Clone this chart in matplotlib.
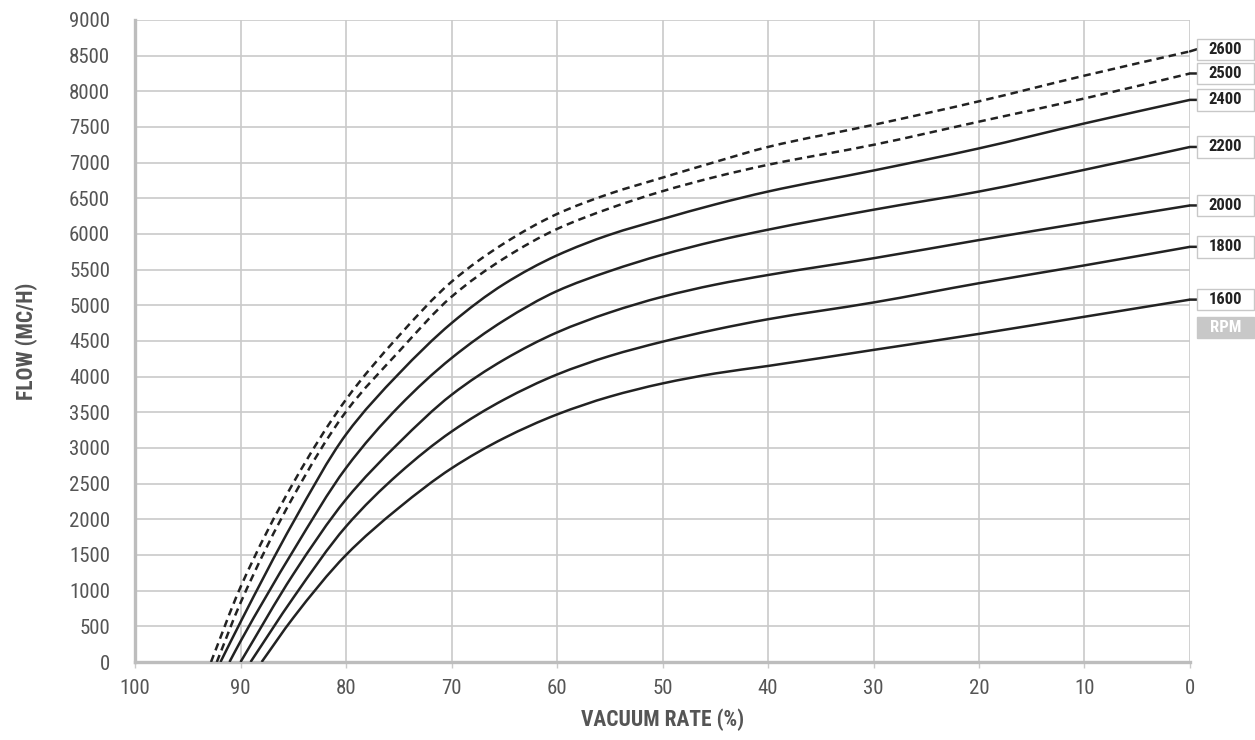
import matplotlib

matplotlib.use("Agg")
import matplotlib.pyplot as plt
import matplotlib.transforms as mtransforms
from matplotlib import font_manager
from matplotlib.patches import PathPatch, Rectangle
from matplotlib.path import Path

# vacuum rate (%) and flow (mc/h), one pair per speed
rpm_labels = ["2600", "2500", "2400", "2200", "2000", "1800", "1600"]
dashed_rpm = ["2600", "2500"]

vac_2600 = [92.8, 90, 85, 80, 75, 70, 65, 60, 55, 50, 45, 40, 30, 20, 10, 0]
flow_2600 = [0, 1050, 2510, 3680, 4570, 5330, 5870, 6280, 6565, 6790, 7010, 7220, 7530, 7860, 8220, 8560]

vac_2500 = [92.25, 90, 85, 80, 75, 70, 65, 60, 55, 50, 45, 40, 30, 20, 10, 0]
flow_2500 = [0, 830, 2320, 3510, 4350, 5120, 5660, 6070, 6360, 6600, 6800, 6970, 7250, 7575, 7900, 8250]

vac_2400 = [91.9, 90, 85, 80, 75, 70, 65, 60, 55, 50, 45, 40, 30, 20, 10, 0]
flow_2400 = [0, 560, 1960, 3190, 4040, 4750, 5300, 5700, 5990, 6210, 6415, 6595, 6890, 7200, 7550, 7880]

vac_2200 = [91.05, 90, 85, 80, 75, 70, 65, 60, 55, 50, 45, 40, 30, 20, 10, 0]
flow_2200 = [0, 290, 1560, 2720, 3580, 4260, 4790, 5200, 5480, 5710, 5900, 6060, 6340, 6595, 6900, 7220]

vac_2000 = [90.0, 85, 80, 75, 70, 65, 60, 55, 50, 45, 40, 30, 20, 10, 0]
flow_2000 = [0, 1230, 2280, 3070, 3745, 4240, 4620, 4900, 5120, 5290, 5425, 5660, 5915, 6160, 6400]

vac_1800 = [89.05, 85, 80, 75, 70, 65, 60, 55, 50, 45, 40, 30, 20, 10, 0]
flow_1800 = [0, 900, 1900, 2640, 3230, 3680, 4030, 4290, 4490, 4660, 4805, 5040, 5310, 5560, 5820]

vac_1600 = [88.0, 85, 80, 75, 70, 65, 60, 55, 50, 45, 40, 30, 20, 10, 0]
flow_1600 = [0, 620, 1500, 2160, 2715, 3140, 3470, 3720, 3905, 4045, 4150, 4375, 4600, 4840, 5080]

curves = {
    "2600": (vac_2600, flow_2600),
    "2500": (vac_2500, flow_2500),
    "2400": (vac_2400, flow_2400),
    "2200": (vac_2200, flow_2200),
    "2000": (vac_2000, flow_2000),
    "1800": (vac_1800, flow_1800),
    "1600": (vac_1600, flow_1600),
}

x_ticks = [100, 90, 80, 70, 60, 50, 40, 30, 20, 10, 0]
y_ticks = list(range(0, 9001, 500))

LINE = "#222222"
GRID = "#cacaca"
TEXT = "#555555"


def pick_narrow_font():
    """Use a condensed face if one is installed, else plain Liberation Sans."""
    wanted = ["Liberation Sans Narrow", "Roboto Condensed", "Arial Narrow", "Open Sans Condensed"]
    names = {f.name for f in font_manager.fontManager.ttflist}
    for name in wanted:
        if name in names:
            return name, True
    for f in font_manager.fontManager.ttflist:
        if f.name == "DejaVu Sans" and f.stretch == "condensed":
            return "DejaVu Sans", True
    return "Liberation Sans", False


FONT, NARROW = pick_narrow_font()
plt.rcParams["font.family"] = [FONT, "DejaVu Sans"]
if NARROW and FONT == "DejaVu Sans":
    plt.rcParams["font.stretch"] = "condensed"
tick_size = 15 if NARROW else 13
label_size = 15.5 if NARROW else 13.5


def smooth_path(xs, ys):
    # monotone cubic (Fritsch-Carlson tangents) turned into Bezier segments
    n = len(xs)
    d = [(ys[i + 1] - ys[i]) / (xs[i + 1] - xs[i]) for i in range(n - 1)]
    m = [d[0]] + [0.0] * (n - 2) + [d[-1]]
    for i in range(1, n - 1):
        if d[i - 1] * d[i] <= 0:
            m[i] = 0.0
        else:
            h0, h1 = xs[i] - xs[i - 1], xs[i + 1] - xs[i]
            w1, w2 = 2 * h1 + h0, h1 + 2 * h0
            m[i] = (w1 + w2) / (w1 / d[i - 1] + w2 / d[i])
    verts = [(xs[0], ys[0])]
    codes = [Path.MOVETO]
    for i in range(n - 1):
        h = xs[i + 1] - xs[i]
        verts += [(xs[i] + h / 3, ys[i] + m[i] * h / 3),
                  (xs[i + 1] - h / 3, ys[i + 1] - m[i + 1] * h / 3),
                  (xs[i + 1], ys[i + 1])]
        codes += [Path.CURVE4] * 3
    return Path(verts, codes)


fig = plt.figure(figsize=(12.55, 7.40), dpi=100)
ax = fig.add_axes([0.1076, 0.1054, 0.8406, 0.8676])

for rpm in rpm_labels:
    vac, flow = curves[rpm]
    style = (0, (3.0, 2.0)) if rpm in dashed_rpm else "-"
    ax.add_patch(PathPatch(smooth_path(vac, flow), facecolor="none", edgecolor=LINE,
                           lw=1.8, linestyle=style, capstyle="butt", zorder=3))

ax.set_xlim(100, 0)
ax.set_ylim(0, 9000)
ax.set_xticks(x_ticks)
ax.set_yticks(y_ticks)
ax.grid(True, color=GRID, lw=1.2, zorder=0)
ax.set_axisbelow(True)

for side in ["top", "right"]:
    ax.spines[side].set_visible(False)
for side in ["left", "bottom"]:
    ax.spines[side].set_color("#bdbdbd")
    ax.spines[side].set_linewidth(2.4)

ax.tick_params(axis="x", length=4, width=1, color=GRID, pad=8, labelsize=tick_size, labelcolor=TEXT)
ax.tick_params(axis="y", length=0, pad=18, labelsize=tick_size, labelcolor=TEXT)

ax.set_xlabel("VACUUM RATE (%)", fontsize=label_size, fontweight="bold", color=TEXT, labelpad=8)
ax.set_ylabel("FLOW (MC/H)", fontsize=label_size, fontweight="bold", color=TEXT, labelpad=22)

# rpm tags on the right, nudged apart where the ends crowd together
ends = {rpm: curves[rpm][1][-1] for rpm in rpm_labels}
order = sorted(rpm_labels, key=lambda r: ends[r])
min_gap = 340
tag_y = {}
prev = None
for rpm in order:
    y = ends[rpm]
    if prev is not None and y - prev < min_gap:
        y = prev + min_gap
    tag_y[rpm] = y
    prev = y

trans = mtransforms.blended_transform_factory(ax.transAxes, ax.transData)
box_x0, box_w, box_h = 1.0066, 0.054, 300

for rpm in rpm_labels:
    y = tag_y[rpm]
    ax.add_patch(Rectangle((box_x0, y - box_h / 2), box_w, box_h, transform=trans,
                           facecolor="white", edgecolor="#c8c8c8", lw=1, clip_on=False, zorder=4))
    ax.text(box_x0 + box_w / 2, y, rpm, transform=trans, ha="center", va="center",
            fontsize=12, fontweight="bold", color=LINE, zorder=5)
    ax.annotate("", xy=(0, ends[rpm]), xycoords="data", xytext=(box_x0, y), textcoords=trans,
                arrowprops=dict(arrowstyle="-", color=LINE, lw=1.8, shrinkA=0, shrinkB=0),
                annotation_clip=False, zorder=3)

rpm_y = tag_y[order[0]] - 390
ax.add_patch(Rectangle((box_x0, rpm_y - box_h / 2), box_w, box_h, transform=trans,
                       facecolor="#c8c8c8", edgecolor="#c8c8c8", lw=1, clip_on=False, zorder=4))
ax.text(box_x0 + box_w / 2, rpm_y, "RPM", transform=trans, ha="center", va="center",
        fontsize=12, fontweight="bold", color="white", zorder=5)

fig.savefig("out.png", dpi=100)
plt.close(fig)
